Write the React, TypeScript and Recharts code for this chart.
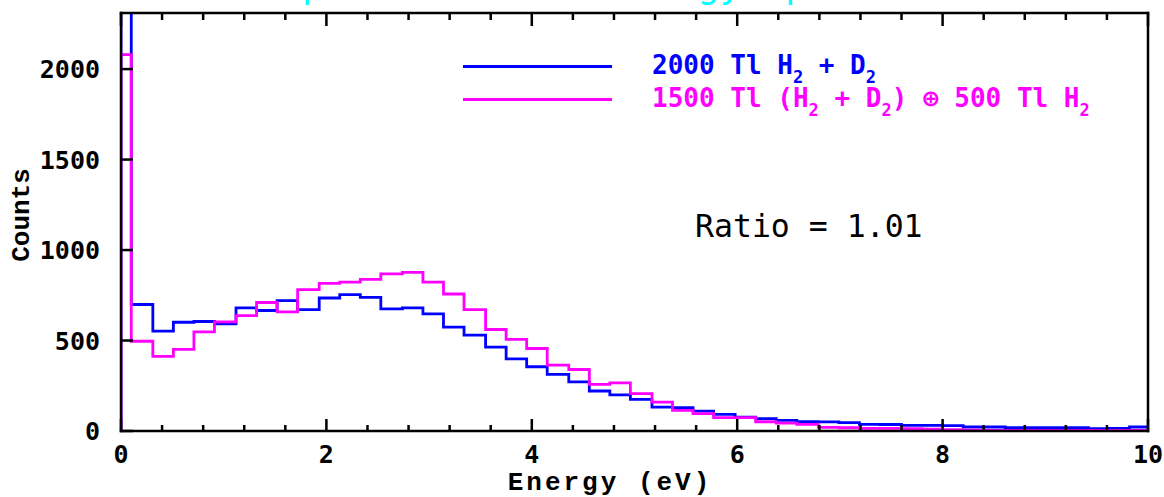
import React from "react";
import { ComposedChart, Line, XAxis, YAxis, Legend } from "recharts";

// bin edges (eV) — first/last bins are clipped by the 0..10 window
const edges = [
  0, 0.1, 0.31, 0.51, 0.71, 0.91, 1.12, 1.32, 1.52, 1.72, 1.93, 2.13, 2.33,
  2.53, 2.74, 2.94, 3.14, 3.34, 3.55, 3.75, 3.95, 4.15, 4.36, 4.56, 4.76, 4.96,
  5.17, 5.37, 5.57, 5.77, 5.98, 6.18, 6.38, 6.58, 6.79, 6.99, 7.19, 7.39, 7.6,
  7.8, 8.0, 8.2, 8.41, 8.61, 8.81, 9.01, 9.22, 9.42, 9.62, 9.82, 10,
];

// 2000 Tl H2 + D2
const blueCounts = [
  2600, 699, 552, 601, 605, 592, 680, 666, 721, 671,
  735, 754, 739, 675, 680, 647, 574, 530, 463, 399,
  355, 313, 272, 221, 200, 175, 132, 129, 110, 92,
  77, 68, 59, 51, 50, 46, 37, 36, 31, 31,
  30, 22, 22, 18, 18, 19, 18, 13, 14, 22,
];

// 1500 Tl (H2 + D2) (+) 500 Tl H2
const magentaCounts = [
  2080, 496, 412, 451, 548, 603, 638, 710, 658, 781,
  816, 823, 838, 868, 877, 823, 757, 671, 561, 506,
  456, 364, 340, 258, 266, 206, 160, 114, 96, 74,
  74, 51, 44, 37, 20, 18, 15, 14, 13, 10,
  8, 5, 4, 4, 3, 3, 3, 3, 3, 4,
];

const xTicks = [
  0, 0.4, 0.8, 1.2, 1.6, 2, 2.4, 2.8, 3.2, 3.6, 4, 4.4, 4.8, 5.2, 5.6, 6, 6.4,
  6.8, 7.2, 7.6, 8, 8.4, 8.8, 9.2, 9.6, 10,
];
const yTicks = [0, 500, 1000, 1500, 2000];

const W = 1164;
const H = 497;
const MARGIN = { top: 12, right: 15, bottom: 65, left: 120 };
const TOP_AXIS_H = 1;
const PLOT_TOP = MARGIN.top + TOP_AXIS_H;
const X_TICK_SIZE = -12;
const X_TICK_MARGIN = 26;
const MONO = "'DejaVu Sans Mono', monospace";
const BLUE = "#0000ff";
const MAGENTA = "#ff00ff";
const AXIS = { stroke: "#000", strokeWidth: 2.5, strokeLinecap: "square" as const };
const TICK = { stroke: "#000", strokeWidth: 2.5 };

const isMajor = (v: number) => Math.abs(v / 2 - Math.round(v / 2)) < 1e-6;

// step histogram rows: rise from zero at x=0, repeat last bin at x=10
const rows = [
  { x: 0, blue: 0, magenta: 0 },
  ...edges.slice(0, -1).map((e, i) => ({ x: e, blue: blueCounts[i], magenta: magentaCounts[i] })),
  {
    x: edges[edges.length - 1],
    blue: blueCounts[blueCounts.length - 1],
    magenta: magentaCounts[magentaCounts.length - 1],
  },
];

// x tick: inward marks on bottom and top frame, label on the majors
function XTick(props: any) {
  const { x, y, payload } = props;
  const major = isMajor(payload.value);
  const axisY = y - (X_TICK_SIZE + X_TICK_MARGIN);
  const lenB = major ? 12 : 6;
  const lenT = major ? 13 : 7;
  return (
    <g>
      <rect x={x - 1.25} y={axisY - lenB} width={2.5} height={lenB} fill="#000" />
      <rect x={x - 1.25} y={PLOT_TOP} width={2.5} height={lenT} fill="#000" />
      {major && (
        <text x={x} y={y} dy="0.72em" textAnchor="middle" fontFamily={MONO} fontWeight="bold" fontSize={25} fill="#000">
          {payload.value}
        </text>
      )}
    </g>
  );
}

function YLabel(props: any) {
  const { x, y, payload } = props;
  return (
    <text x={x} y={y} dy="0.36em" textAnchor="end" fontFamily={MONO} fontWeight="bold" fontSize={25} fill="#000">
      {payload.value}
    </text>
  );
}

const Sub = ({ children }: { children: React.ReactNode }) => (
  <span style={{ fontSize: 17, position: "relative", top: 9 }}>{children}</span>
);

const legendOrder = ["blue", "magenta"];
const legendLabels: Record<string, React.ReactNode> = {
  blue: (
    <>
      2000 Tl H<Sub>2</Sub> + D<Sub>2</Sub>
    </>
  ),
  magenta: (
    <>
      1500 Tl (H<Sub>2</Sub> + D<Sub>2</Sub>) ⊕ 500 Tl H<Sub>2</Sub>
    </>
  ),
};

function LegendBox(props: any) {
  const items = [...((props.payload || []) as { dataKey: string; color: string }[])].sort(
    (a, b) => legendOrder.indexOf(a.dataKey) - legendOrder.indexOf(b.dataKey)
  );
  return (
    <div>
      {items.map((it) => (
        <div key={it.dataKey} style={{ display: "flex", alignItems: "center", height: 33 }}>
          <div style={{ width: 149, height: 3, background: it.color, marginRight: 40 }} />
          <span style={{ fontFamily: MONO, fontWeight: "bold", fontSize: 26, color: it.color, whiteSpace: "pre", lineHeight: "26px" }}>
            {legendLabels[it.dataKey]}
          </span>
        </div>
      ))}
    </div>
  );
}

export default function App() {
  return (
    <div style={{ position: "absolute", left: 0, top: 0, width: W, height: H, background: "#fff" }}>
      <ComposedChart width={W} height={H} data={rows} margin={MARGIN}>
        <XAxis
          dataKey="x"
          type="number"
          domain={[0, 10]}
          ticks={xTicks}
          allowDataOverflow
          height={1}
          tickSize={X_TICK_SIZE}
          tickMargin={X_TICK_MARGIN}
          axisLine={AXIS}
          tickLine={false}
          tick={<XTick />}
          interval={0}
        />
        {/* top frame line only */}
        <XAxis
          xAxisId="top"
          orientation="top"
          dataKey="x"
          type="number"
          domain={[0, 10]}
          allowDataOverflow
          height={TOP_AXIS_H}
          axisLine={AXIS}
          tick={false}
          tickLine={false}
        />
        <YAxis
          type="number"
          domain={[0, 2310]}
          ticks={yTicks}
          allowDataOverflow
          width={1}
          tickSize={-12}
          tickMargin={33}
          axisLine={AXIS}
          tickLine={TICK}
          tick={<YLabel />}
          interval={0}
        />
        <YAxis
          yAxisId="right"
          orientation="right"
          type="number"
          domain={[0, 2310]}
          allowDataOverflow
          width={1}
          axisLine={AXIS}
          tick={false}
          tickLine={false}
        />
        <Legend
          layout="horizontal"
          verticalAlign="middle"
          align="center"
          content={<LegendBox />}
          wrapperStyle={{ left: 463, top: 50, width: 700, height: 66 }}
        />
        <Line
          dataKey="blue"
          name="2000 Tl H2 + D2"
          type="stepAfter"
          stroke={BLUE}
          strokeWidth={2.8}
          dot={false}
          isAnimationActive={false}
        />
        <Line
          dataKey="magenta"
          name="1500 Tl (H2 + D2) + 500 Tl H2"
          type="stepAfter"
          stroke={MAGENTA}
          strokeWidth={2.8}
          dot={false}
          isAnimationActive={false}
        />
      </ComposedChart>
      <svg
        width={W}
        height={H}
        style={{ position: "absolute", left: 0, top: 0, pointerEvents: "none" }}
      >
        <text x={236} y={-3} fill="#00ffff" fontFamily={MONO} fontSize={36.5}>
          Comparison of Tl Energy Spectra
        </text>
        <text
          transform="translate(22,215) rotate(-90)"
          textAnchor="middle"
          dominantBaseline="central"
          fontFamily="'Liberation Mono', monospace"
          fontWeight="bold"
          fontSize={26}
          fill="#000"
        >
          Counts
        </text>
        <text
          x={610}
          y={490}
          textAnchor="middle"
          fontFamily="'Liberation Mono', monospace"
          fontWeight="bold"
          fontSize={26}
          letterSpacing={3}
          fill="#000"
        >
          Energy (eV)
        </text>
        <text x={695} y={237} fontFamily={MONO} fontSize={31.5} fill="#000">
          Ratio = 1.01
        </text>
      </svg>
    </div>
  );
}
